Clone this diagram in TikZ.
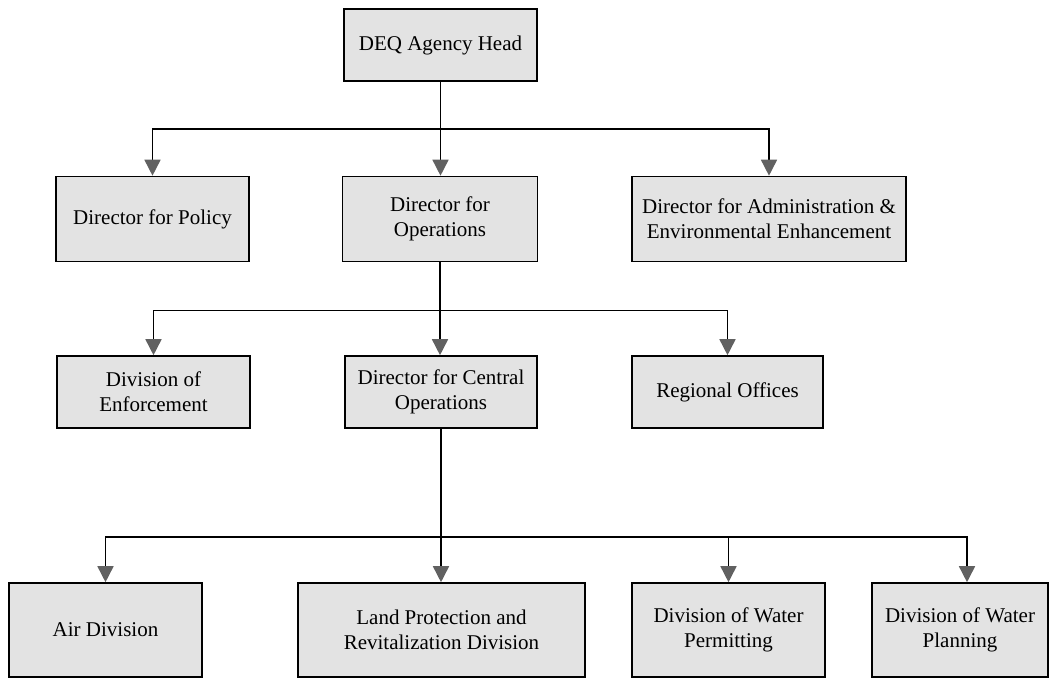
\documentclass[tikz,border=0pt]{standalone}
\usepackage{fontspec}
\setmainfont{Liberation Serif}
\usetikzlibrary{arrows.meta}
\begin{document}
\begin{tikzpicture}[x=1pt,y=-1pt,
  box/.style={draw=black, line width=1.6pt, fill=black!11, rectangle, inner sep=0pt,
    align=center, font=\fontsize{21}{25}\selectfont, text=black},
  link/.style={draw=black, line width=1.6pt},
  arr/.style={link, -{Triangle[width=16pt,length=16pt,color=black!62]}}]
\useasboundingbox (0,0) rectangle (1056,679);
% level 0
\node[box, minimum width=193pt, minimum height=72pt] (head) at (440.5,45) {DEQ Agency Head};
% level 1
\node[box, minimum width=193pt, minimum height=85pt] (pol) at (152.5,219) {Director for Policy};
\node[box, minimum width=195pt, minimum height=85pt] (ops) at (440,219) {Director for\\Operations};
\node[box, minimum width=274pt, minimum height=85pt] (adm) at (769,219) {Director for Administration \&\\Environmental Enhancement};
% level 2
\node[box, minimum width=193pt, minimum height=72pt] (enf) at (153.5,392) {Division of\\Enforcement};
\node[box, minimum width=192pt, minimum height=72pt] (cen) at (441,392) {Director for Central\\Operations};
\node[box, minimum width=191pt, minimum height=72pt] (reg) at (727.5,392) {Regional Offices};
% level 3
\node[box, minimum width=193pt, minimum height=94pt] (air) at (105.5,630) {Air Division};
\node[box, minimum width=287pt, minimum height=94pt] (land) at (441.5,630) {Land Protection and\\Revitalization Division};
\node[box, minimum width=193pt, minimum height=94pt] (perm) at (728.5,630) {Division of Water\\Permitting};
\node[box, minimum width=176pt, minimum height=94pt] (plan) at (960,630) {Division of Water\\Planning};
% junctions
\coordinate (j1) at ([yshift=-47pt]head.south);
\coordinate (j2) at ([yshift=-48pt]ops.south);
\coordinate (j3) at ([yshift=-108pt]cen.south);
% connectors
\draw[link] (head.south) -- (j1);
\draw[arr] (j1) -| (pol.north);
\draw[arr] (j1) -- (j1 |- ops.north);
\draw[arr] (j1) -| (adm.north);
\draw[link] (ops.south) -- (j2);
\draw[arr] (j2) -| (enf.north);
\draw[arr] (j2) -- (j2 |- cen.north);
\draw[arr] (j2) -| (reg.north);
\draw[link] (cen.south) -- (j3);
\draw[arr] (j3) -| (air.north);
\draw[arr] (j3) -- (j3 |- land.north);
\draw[arr] (j3) -| (perm.north);
\draw[arr] (j3) -| ([xshift=7pt]plan.north);
\end{tikzpicture}
\end{document}
